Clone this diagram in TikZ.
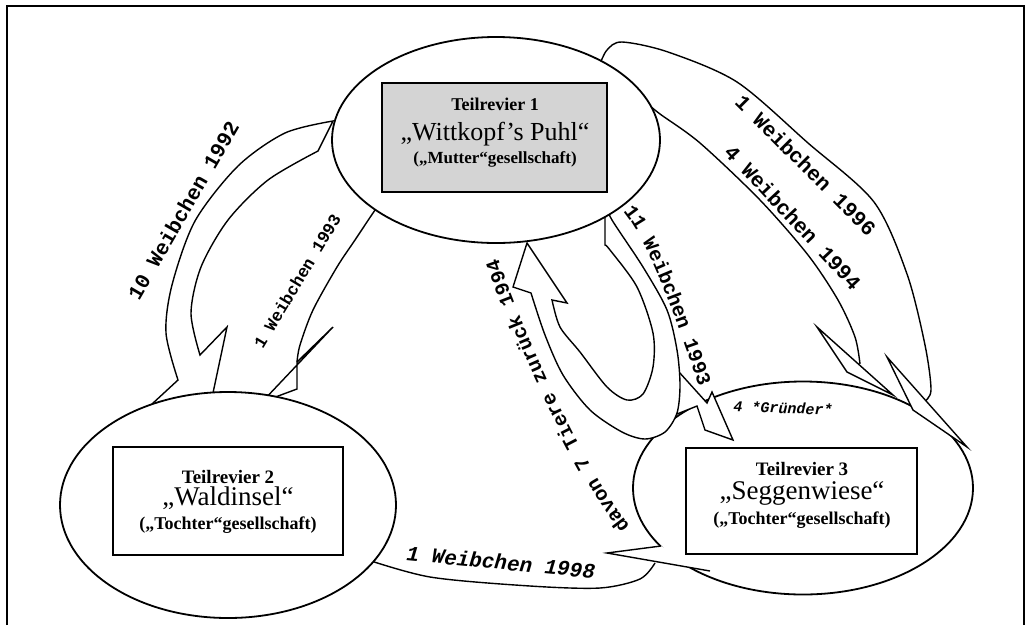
\documentclass[tikz,border=0pt]{standalone}
\usepackage{fontspec}
\setmainfont{Liberation Serif}
\newfontfamily\monofamilie{Liberation Mono}
\usetikzlibrary{shapes.geometric,decorations.text}

\begin{document}
\begin{tikzpicture}[x=1pt, y=-1pt,
  revier/.style={ellipse, draw, line width=1.8pt, fill=white, inner sep=0pt},
  kasten/.style={rectangle, draw, line width=1.7pt, fill=white, inner sep=0pt},
  pfeil/.style={draw, line width=1.4pt, fill=white, line join=miter},
  strich/.style={draw, line width=1.4pt},
  rahmen/.style={draw, line width=2.6pt},
  titel/.style={anchor=base, font=\bfseries\fontsize{19}{19}\selectfont},
  ortsname/.style={anchor=base, font=\fontsize{27}{27}\selectfont},
  zusatz/.style={anchor=base, font=\bfseries\fontsize{18}{18}\selectfont},
  zahl/.style={font=\monofamilie\bfseries\fontsize{21}{21}\selectfont},
  zahlklein/.style={font=\monofamilie\bfseries\fontsize{17}{17}\selectfont},
  zahlkursiv/.style={font=\monofamilie\bfseries\itshape\fontsize{21}{21}\selectfont}
]
  \useasboundingbox (0,0) rectangle (1026,625);
  % Rahmen, unten offen
  \draw[rahmen] (7,625) -- (7,6) -- (1024,6) -- (1024,625);

  % 10 Weibchen 1992 (aussen links)
  \filldraw[pfeil] plot[smooth] coordinates {(333,121) (285,133) (238,166) (195,221) (172,285) (166,333) (178,380)}
    -- (152,404) -- (203,440) -- (227,327) -- (200,355)
    -- plot[smooth] coordinates {(200,355) (191,313) (201,267) (228,220) (268,180) (318,151)} -- cycle;

  % 1 Weibchen 1993 (innen links)
  \draw[strich] plot[smooth] coordinates {(380,203) (373,213) (355,240) (337,267) (313,310) (300,345) (297,362)};
  \filldraw[pfeil] (297,362) -- (333,327) -- (262,402) -- (297,389) -- cycle;

  % 1 Weibchen 1998 (unten)
  \draw[strich] plot[smooth] coordinates {(362,558) (430,577) (530,586) (600,588) (640,579) (655,563)};

  % Teilrevier 2
  \node[revier, minimum width=336pt, minimum height=226pt] (wald) at (228,505) {};
  \node[kasten, minimum width=230pt, minimum height=108pt] (k2) at (228,501) {};
  \node[titel] (t2a) at (228,483) {Teilrevier 2};
  \node[ortsname] (t2b) at (228,505) {„Waldinsel“};
  \node[zusatz] (t2c) at (228,529) {(„Tochter“gesellschaft)};

  % Teilrevier 3
  \node[revier, minimum width=340pt, minimum height=213pt] (segge) at (803,488) {};
  \node[kasten, minimum width=231pt, minimum height=106pt] (k3) at (801.5,501) {};
  \node[titel] (t3a) at (802,475) {Teilrevier 3};
  \node[ortsname] (t3b) at (802,499) {„Seggenwiese“};
  \node[zusatz] (t3c) at (802,524) {(„Tochter“gesellschaft)};

  % 11 Weibchen 1993: Abzweig nach Teilrevier 3
  \filldraw[pfeil] (679,372) -- (707,403) -- (712,392) -- (733,440) -- (705,430) -- (697,406) -- (677,414);
  % U-Bogen, zurueck nach Teilrevier 1
  \filldraw[pfeil] plot[smooth] coordinates {(606,205) (612,220) (643,267) (667,310) (677,350) (680,385) (677,413) (665,432) (645,439) (622,432) (590,410) (563,375) (545,335) (531,293)}
    -- (513,287) -- (527,243) -- (567,303) -- (552,300)
    -- plot[smooth] coordinates {(552,300) (560,327) (580,352) (607,387) (627,400) (643,394) (653,367) (653,333) (637,287) (610,250) (605,245)}
    -- (605,205) -- cycle;

  % 1 Weibchen 1996 / 4 Weibchen 1994 (rechts)
  \draw[strich] plot[smooth] coordinates {(600,64) (607,50) (622,42) (668,52) (737,82) (808,143) (874,202) (907,274) (925,345) (931,390) (924,402)};
  \draw[strich] plot[smooth] coordinates {(648,104) (660,114) (700,143) (760,200) (808,255) (838,300) (855,337) (860,364)};
  \filldraw[pfeil] (817,327) -- (847,372) -- (893,395) -- cycle;
  \filldraw[pfeil] (887,357) -- (913,410) -- (967,447) -- cycle;
  \filldraw[pfeil] (661,546) -- (607,553) -- (710,571);

  % Teilrevier 1
  \node[revier, minimum width=328pt, minimum height=206pt] (mutter) at (496,140) {};
  \node[kasten, fill=black!17, minimum width=225pt, minimum height=109pt] (k1) at (494.5,137.5) {};
  \node[titel, font=\bfseries\fontsize{18}{18}\selectfont] (t1a) at (495,110) {Teilrevier 1};
  \node[ortsname, font=\fontsize{26}{26}\selectfont] (t1b) at (495,140) {„Wittkopf’s Puhl“};
  \node[zusatz, font=\bfseries\fontsize{17}{17}\selectfont] (t1c) at (495,163) {(„Mutter“gesellschaft)};

  % Beschriftungen
  \node[zahl, rotate=60] (l92) at (183,210) {10 Weibchen 1992};
  \node[zahlklein, rotate=59] (l93) at (297,281) {1 Weibchen 1993};
  \node[zahl, rotate=-45] (l96) at (806,165) {1 Weibchen 1996};
  \node[zahl, rotate=-47] (l94) at (793,217) {4 Weibchen 1994};
  \node[zahlkursiv, rotate=-5.5] (l98) at (501,562) {1 Weibchen 1998};
  \node[zahlkursiv, font=\monofamilie\bfseries\itshape\fontsize{15}{15}\selectfont, rotate=-2] (gruender) at (783,408) {4 *Gründer*};
  \path[decorate, decoration={text along path, text align=center,
      text={|\monofamilie\bfseries\fontsize{20}{20}\selectfont|11 Weibchen 1993}}]
    (617,205) .. controls (649,233) and (685,347) .. (702,395);
  \path[decorate, decoration={text along path, text align=center,
      text={|\monofamilie\bfseries\fontsize{20}{20}\selectfont|davon 7 Tiere zurück 1994}}]
    (634,532) .. controls (583,470) and (521,328) .. (496,252);
\end{tikzpicture}
\end{document}
